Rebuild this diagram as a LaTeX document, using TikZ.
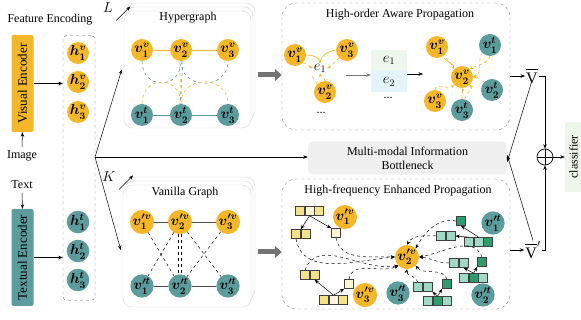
\documentclass[tikz,border=0pt]{standalone}
\usepackage{fontspec}
\setmainfont{Liberation Serif}
\usetikzlibrary{arrows.meta,positioning,calc}

\definecolor{vorange}{RGB}{245,183,42}
\definecolor{tteal}{RGB}{92,156,156}
\definecolor{cyellow}{RGB}{243,226,135}
\definecolor{cpale}{RGB}{252,246,214}
\definecolor{clight}{RGB}{160,218,198}
\definecolor{cdark}{RGB}{46,156,108}
\definecolor{mibgray}{RGB}{239,239,239}
\definecolor{clsgreen}{RGB}{238,246,234}
\definecolor{egreen}{RGB}{237,247,237}
\definecolor{eblue}{RGB}{229,243,250}

\begin{document}
\begin{tikzpicture}[x=1pt,y=-1pt,font=\fontsize{12}{13}\selectfont,
	mathlbl/.style={font=\fontsize{14}{14}\selectfont},
	nodelbl/.style={font=\fontsize{14}{14}\selectfont\boldmath},
	vis/.style={circle,fill=vorange,inner sep=0pt,minimum size=22pt,nodelbl},
	txt/.style={circle,fill=tteal,inner sep=0pt,minimum size=22pt,nodelbl},
	encoder/.style={rounded corners=2pt,inner sep=0pt,rotate=90,minimum width=97pt,minimum height=22pt,font=\fontsize{13}{14}\selectfont},
	stackbox/.style={draw=black!15,fill=white,rounded corners=9pt},
	dashbox/.style={draw=black!50,dashed,rounded corners=14pt},
	arr/.style={-{Stealth[length=4.5pt,width=3.5pt]},line width=0.5pt},
	blockarr/.style={line width=5pt,black!55,-{Triangle[length=7pt,width=12pt]}},
	odash/.style={vorange,dashed,line width=0.6pt},
	tdash/.style={tteal,dashed,line width=0.6pt},
	oarr/.style={odash,-{Stealth[length=3.5pt,width=3pt]}},
	karr/.style={dashed,line width=0.5pt,-{Stealth[length=4pt,width=3.5pt]}},
	cell/.style={draw=black!75,minimum size=9pt,inner sep=0pt,line width=0.6pt},
	ycell/.style={cell,fill=cyellow},
	pcell/.style={cell,fill=cpale},
	lcell/.style={cell,fill=clight},
	dcell/.style={cell,fill=cdark}]
\useasboundingbox (0,0) rectangle (581,320);

% feature encoding
\node (fetitle) at (50,20) {Feature Encoding};
\node[encoder,fill=vorange] (venc) at (22.5,83.5) {Visual Encoder};
\node[encoder,fill=tteal] (tenc) at (22.5,257.5) {Textual Encoder};
\node (image) at (22,156) {Image};
\node (text) at (22,185) {Text};
\draw[arr] (image.north) -- (venc.west);
\draw[arr] (text.south) -- (tenc.east);
\node[draw=black!60,dashed,rounded corners=4pt,minimum width=32pt,minimum height=265pt] (fbox) at (79,168) {};
\node[vis] (h1v) at (78,53) {$h_1^v$};
\node[vis] (h2v) at (78,82) {$h_2^v$};
\node[vis] (h3v) at (78,112) {$h_3^v$};
\node[txt] (h1t) at (78,222) {$h_1^t$};
\node[txt] (h2t) at (78,251) {$h_2^t$};
\node[txt] (h3t) at (78,280) {$h_3^t$};
\draw[arr] (venc.south) -- (venc.south -| fbox.west);
\draw[arr] (tenc.south) -- (tenc.south -| fbox.west);

% hypergraph stack
\draw[stackbox] (128,3) rectangle (255,120);
\draw[stackbox] (126,7) rectangle (253,124);
\node[stackbox,minimum width=127pt,minimum height=117pt] (hyper) at (187.5,69.5) {};
\node (hytitle) at (188,18) {Hypergraph};
\node[vis] (hv1) at (142,50) {$v_1^v$};
\node[vis] (hv2) at (181,50) {$v_2^v$};
\node[vis] (hv3) at (228,50) {$v_3^v$};
\node[txt] (ht1) at (142,115) {$v_1^t$};
\node[txt] (ht2) at (181,115) {$v_2^t$};
\node[txt] (ht3) at (228,115) {$v_3^t$};
\draw[vorange,line width=0.8pt] (hv1) -- (hv2) -- (hv3);
\draw[tteal,line width=0.8pt] (ht1) -- (ht2) -- (ht3);
\draw[tdash] (hv1.south) to[out=-90,in=-90,looseness=1.9] (hv2.south);
\draw[tdash] (hv2.south) to[out=-90,in=-90,looseness=1.6] (hv3.south);
\draw[odash] (ht1.north) to[out=90,in=90,looseness=1.9] (ht2.north);
\draw[odash] (ht2.north) to[out=90,in=90,looseness=1.6] (ht3.north);
\draw[odash] ([xshift=-2pt]hv2.south) -- ([xshift=1pt]ht2.north);
\draw[tdash] ([xshift=2pt]hv2.south) -- ([xshift=-1pt]ht2.north);

% vanilla graph stack
\draw[stackbox] (127,177) rectangle (255,299);
\draw[stackbox] (125,181) rectangle (253,303);
\node[stackbox,minimum width=128pt,minimum height=122pt] (vanilla) at (187,246) {};
\node (vatitle) at (185,193) {Vanilla Graph};
\node[vis] (gv1) at (142,222) {$v'^{v}_1$};
\node[vis] (gv2) at (180,222) {$v'^{v}_2$};
\node[vis] (gv3) at (228,222) {$v'^{v}_3$};
\node[txt] (gt1) at (142,286) {$v'^{t}_1$};
\node[txt] (gt2) at (180,286) {$v'^{t}_2$};
\node[txt] (gt3) at (228,286) {$v'^{t}_3$};
\draw[black!70,line width=0.8pt] (gv1) -- (gv2) -- (gv3);
\draw[black!70,line width=0.8pt] (gt1) -- (gt2) -- (gt3);
\draw[dashed,line width=0.5pt] (gv1) -- (gt2);
\draw[dashed,line width=0.5pt] (gv2) -- (gt1);
\draw[dashed,line width=0.5pt] (gv2) -- (gt3);
\draw[dashed,line width=0.5pt] (gv3) -- (gt2);
\draw[dashed,line width=0.5pt] ([xshift=-1.5pt]gv2.south) -- ([xshift=-1.5pt]gt2.north);
\draw[dashed,line width=0.5pt] ([xshift=1.5pt]gv2.south) -- ([xshift=1.5pt]gt2.north);

% branches from the features
\coordinate (fork) at (95,157);
\draw[arr] (fork) -- ([xshift=-2pt]hyper.west);
\draw[arr] (fork) -- ([xshift=-2pt,yshift=-4pt]vanilla.west);
\node[mathlbl] (ltag) at (108,8) {$L$};
\node[mathlbl] (ktag) at (109,177) {$K$};
\draw[arr] (ltag.south east) ++(0,4) -- ++(14,-14);
\draw[arr] (ktag.south east) ++(0,4) -- ++(14,-14);

% high-order aware propagation
\node[dashbox,minimum width=228pt,minimum height=127pt] (hop) at (396,66.5) {};
\node (hotitle) at (400,15) {High-order Aware Propagation};
\coordinate (ga) at (258,75);
\draw[blockarr] (ga) -- (ga -| hop.west);
\node[vis] (ha1) at (295,55) {$v_1^v$};
\node[vis] (ha3) at (347,50) {$v_3^v$};
\node[vis] (ha2) at (325,92) {$v_2^v$};
\node[inner sep=1pt,mathlbl] (e1) at (320,68) {$e_1$};
\node (hadots) at (321,113) {...};
\draw[vorange,line width=0.7pt] (ha1.east) to[out=0,in=100] (e1.north);
\draw[oarr] (ha1.south east) to[out=-10,in=160] (e1.west);
\draw[vorange,line width=0.7pt] (ha3.west) to[out=190,in=80] (e1.north);
\draw[oarr] (ha3.south west) to[out=210,in=20] (e1.east);
\draw[oarr] (ha2.north) to[out=95,in=-80] (e1.south);
\draw[odash] (ha2.north west) to[out=110,in=-120] (e1.south west);
\node[fill=egreen,minimum width=36pt,minimum height=21pt,mathlbl] (et1) at (389,60.5) {$e_1$};
\node[fill=eblue,minimum width=36pt,minimum height=21pt,mathlbl,below=0pt of et1] (et2) {$e_2$};
\node (etdots) at (388,98) {...};
\draw[arr,black!55,line width=0.8pt] (346,75) -- (et1.west |- 0,75);
\coordinate (hbin) at (423,74);
\draw[arr] (et1.east |- hbin) -- (hbin);
\node[vis] (hb1v) at (437,47) {$v_1^v$};
\node[vis] (hb2v) at (462,77) {$v_2^v$};
\node[vis] (hb3v) at (435,101) {$v_3^v$};
\node[txt] (hb1t) at (490,45) {$v_1^t$};
\node[txt] (hb2t) at (492,90) {$v_2^t$};
\node[txt] (hb3t) at (462,110) {$v_3^t$};
\draw[vorange,line width=0.7pt] ([xshift=7pt]hb1v.south) -- ([xshift=-8pt]hb2v.north);
\draw[oarr] ([xshift=9pt]hb1v.south) to[bend left=10] (hb2v.north west);
\draw[oarr] (hb1t.south west) to[out=240,in=20] (hb2v.east);
\draw[oarr] (hb1t.south) to[out=250,in=30] (hb2v.north east);
\draw[oarr] (hb2t.north west) to[out=150,in=0] (hb2v.east);
\draw[oarr] (hb3v.north) to[out=80,in=220] (hb2v.south west);
\draw[oarr] (hb3t.north) to[out=100,in=-70] (hb2v.south);
\draw[oarr] ([xshift=3pt]hb3t.north) to[out=90,in=-50] (hb2v.south east);

% multi-modal information bottleneck
\node[fill=mibgray,rounded corners=5pt,minimum width=199pt,minimum height=33pt,align=center,font=\fontsize{12}{14}\selectfont] (mib) at (407.5,158) {Multi-modal Information\\Bottleneck};
\draw[arr] (fork) -- (fork -| mib.west);

% high-frequency enhanced propagation
\node[dashbox,minimum width=228pt,minimum height=130pt] (hfp) at (396,244) {};
\node (hftitle) at (398,191) {High-frequency Enhanced Propagation};
\coordinate (gb) at (258,252);
\draw[blockarr] (gb) -- (gb -| hfp.west);
\node[vis] (fv1) at (345,217) {$v'^{v}_1$};
\node[vis] (fv2) at (407,257) {$v'^{v}_2$};
\node[vis] (fv3) at (365,295) {$v'^{v}_3$};
\node[txt] (ft1) at (493,223) {$v'^{t}_1$};
\node[txt] (ft2) at (483,295) {$v'^{t}_2$};
\node[txt] (ft3) at (398,293) {$v'^{t}_3$};
% yellow cells, top
\node[ycell] (ya1) at (300,211) {};
\node[pcell,right=0pt of ya1] (ya2) {};
\node[ycell,right=0pt of ya2] (ya3) {};
\node[ycell] (yb1) at (296,234) {};
\node[ycell,right=0pt of yb1] (yb2) {};
\node[pcell] (yc) at (336,233) {};
\draw[arr] (ya2.south) -- (yb1.north east);
\draw[arr] (ya2.south) -- (yc.north west);
\draw[karr] (yb1.south) to[out=-80,in=185] (fv2.west);
\draw[karr] (yc.south) to[out=-80,in=178] (fv2.west);
% yellow cells, bottom
\node[ycell] (yd1) at (324,300) {};
\node[pcell,right=0pt of yd1] (yd2) {};
\node[ycell,right=0pt of yd2] (yd3) {};
\node[ycell] (ye1) at (305,275) {};
\node[ycell,right=0pt of ye1] (ye2) {};
\node[pcell] (yf) at (349,284) {};
\draw[arr] (yd2.north) -- (ye2.south);
\draw[arr] (yd2.north) -- (yf.south west);
\draw[karr] (ye1.north) to[out=70,in=190] (fv2.south west);
\draw[karr] (yf.north) to[out=80,in=205] (fv2.south west);
% green cells, top right
\node[lcell] (ga1) at (469,242) {};
\node[lcell,right=0pt of ga1] (ga2) {};
\node[dcell,right=0pt of ga2] (ga3) {};
\node[lcell] (gb1) at (441,236) {};
\node[lcell,right=0pt of gb1] (gb2) {};
\node[dcell] (gc) at (461,221) {};
\draw[arr] (ga1.north) -- (gb2.east);
\draw[arr] (ga2.north) -- (gc.south);
\draw[karr] (gb1.west) to[out=180,in=60] (fv2.north);
\draw[karr] (gc.west) to[out=170,in=60] (fv2.north east);
% green cells, middle right
\node[lcell] (gm1) at (464,278) {};
\node[dcell,right=0pt of gm1] (gm2) {};
\node[lcell,right=0pt of gm2] (gm3) {};
\node[lcell] (gn1) at (454,263) {};
\node[lcell,right=0pt of gn1] (gn2) {};
\node[dcell] (go) at (482,262) {};
\draw[arr] (gm2.north) -- (gn2.south);
\draw[arr] (gm2.north) -- (go.south west);
\draw[karr] (gn1.west) to[out=180,in=-5] (fv2.east);
\draw[karr] (go.north) to[out=110,in=10] (fv2.east);
% green cells, bottom
\node[lcell] (gp1) at (428,301) {};
\node[dcell,right=0pt of gp1] (gp2) {};
\node[lcell,right=0pt of gp2] (gp3) {};
\node[lcell] (gq1) at (418,287) {};
\node[lcell,right=0pt of gq1] (gq2) {};
\node[dcell] (gr) at (447,284) {};
\draw[arr] (gp2.north) -- (gq2.south east);
\draw[arr] (gp2.north) -- (gr.south west);
\draw[karr] (gq1.north) to[out=100,in=-100] (fv2.south);
\draw[karr] (gr.north) to[out=110,in=-50] (fv2.south east);

% fusion and classifier
\node[inner sep=1pt,font=\fontsize{16}{16}\selectfont] (vbar) at (532,76) {$\overline{\mathrm{V}\rule{0pt}{12.5pt}}$};
\node[inner sep=1pt,font=\fontsize{16}{16}\selectfont] (vbarp) at (533,250) {$\overline{\mathrm{V}\rule{0pt}{12.5pt}}'$};
\draw[arr] (hop.east |- vbar) -- (vbar.west);
\draw[arr] (hfp.east |- vbarp) -- (vbarp.west);
\draw[arr] ([yshift=4pt]vbar.south) -- ([yshift=-4pt]mib.east);
\draw[arr] (vbarp.north) -- ([yshift=3pt]mib.east);
\node[circle,draw,line width=0.7pt,minimum size=16pt,inner sep=0pt] (fuse) at (545,157) {};
\draw[line width=0.7pt] (fuse.north) -- (fuse.south) (fuse.west) -- (fuse.east);
\draw[arr] (vbar.east) -| (fuse.north);
\draw[arr] (vbarp.east) -| (fuse.south);
\node[fill=clsgreen,rounded corners=2pt,rotate=90,minimum width=70pt,minimum height=17pt,inner sep=0pt] (cls) at (573.5,157) {classifier};
\draw[arr] (fuse.east) -- (cls.north);
\end{tikzpicture}
\end{document}
